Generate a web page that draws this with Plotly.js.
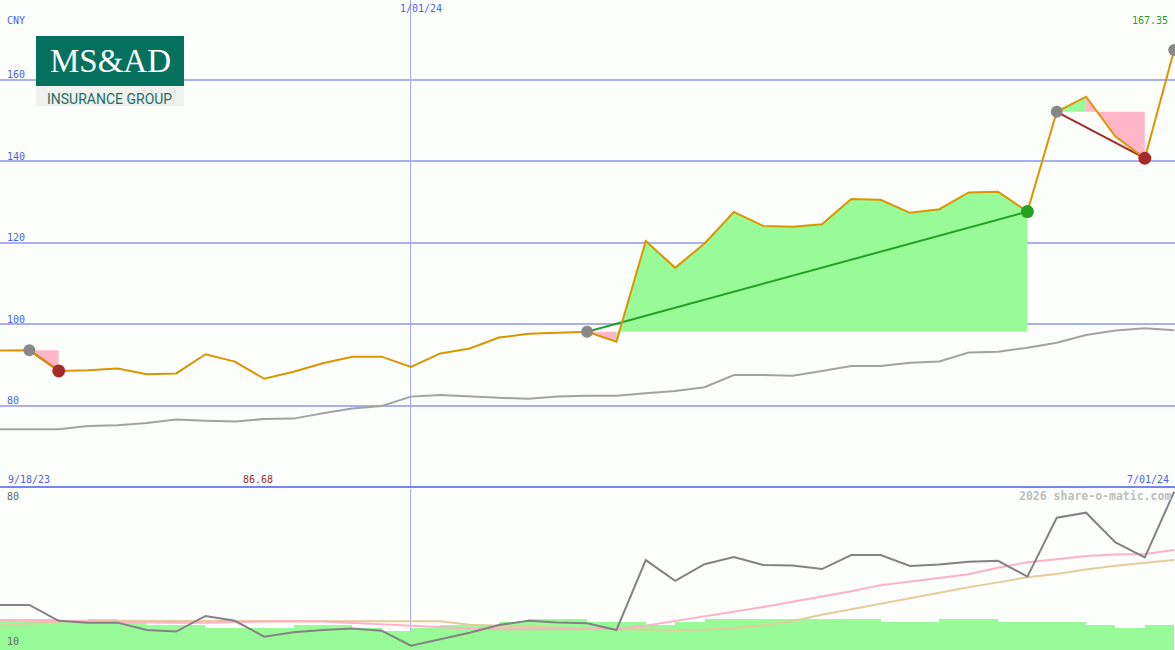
<!DOCTYPE html>
<html>
<head>
<meta charset="utf-8">
<script src="https://cdn.plot.ly/plotly-3.0.1.min.js"></script>
<style>html,body{margin:0;padding:0;background:#fcfefc;}#chart{width:1175px;height:650px;}</style>
</head>
<body>
<div id="chart"></div>
<script>
// ---- data ----
const dates = ['2023-09-25','2023-10-02','2023-10-09','2023-10-16','2023-10-23','2023-10-30','2023-11-06','2023-11-13','2023-11-20','2023-11-27',
  '2023-12-04','2023-12-11','2023-12-18','2023-12-25','2024-01-01','2024-01-08','2024-01-15','2024-01-22','2024-01-29','2024-02-05',
  '2024-02-12','2024-02-19','2024-02-26','2024-03-04','2024-03-11','2024-03-18','2024-03-25','2024-04-01','2024-04-08','2024-04-15',
  '2024-04-22','2024-04-29','2024-05-06','2024-05-13','2024-05-20','2024-05-27','2024-06-03','2024-06-10','2024-06-17','2024-06-24','2024-07-01'];
const price = [93.6, 93.7, 88.6, 88.8, 89.2, 87.8, 88.0, 92.7, 90.9, 86.68, 88.4, 90.5, 92.1, 92.1, 89.6, 92.9, 94.1, 96.8, 97.7, 98.0,
  98.2, 95.8, 120.5, 113.9, 119.9, 127.6, 124.2, 124.0, 124.6, 130.8, 130.6, 127.4, 128.3, 132.4, 132.6, 127.7, 152.2, 155.9, 146.1, 140.8, 167.35];
const priceAvg = [74.3, 74.3, 74.3, 75.1, 75.3, 75.8, 76.7, 76.4, 76.2, 76.8, 76.9, 78.2, 79.4, 80.0, 82.3, 82.7, 82.3, 82.0, 81.8, 82.3,
  82.5, 82.5, 83.1, 83.7, 84.6, 87.6, 87.6, 87.4, 88.6, 89.8, 89.8, 90.6, 90.9, 93.1, 93.3, 94.3, 95.5, 97.4, 98.5, 99.1, 98.6];
const tradeStart = [1, 20, 36];
const tradeEnd = [2, 35, 39];
const oscillator = [29.6, 29.6, 22.7, 21.9, 21.9, 18.7, 18.0, 24.8, 22.7, 15.8, 17.7, 18.7, 19.3, 18.4, 11.9, 14.8, 17.5, 20.9, 22.7, 22.0,
  21.6, 18.7, 49.1, 40.1, 47.3, 50.4, 47.0, 46.7, 45.2, 51.3, 51.3, 46.5, 47.2, 48.4, 48.8, 41.9, 67.5, 69.7, 56.8, 50.3, 78.8];
const oscFast = [23.0, 22.8, 22.4, 22.2, 22.2, 22.0, 21.9, 21.9, 22.1, 22.5, 22.5, 22.4, 21.8, 21.0, 20.6, 19.8, 19.3, 19.0, 19.0, 19.0,
  19.0, 19.1, 20.6, 22.6, 24.6, 26.7, 28.7, 31.0, 33.3, 35.5, 38.2, 39.8, 41.2, 42.9, 45.8, 48.2, 49.5, 50.9, 51.5, 51.7, 53.5];
const oscSlow = [20.6, 21.5, 22.3, 22.7, 22.7, 22.7, 22.7, 22.7, 22.7, 22.7, 22.7, 22.7, 22.7, 22.7, 22.7, 22.5, 21.0, 20.7, 20.3, 19.8,
  19.4, 19.1, 18.9, 18.7, 18.9, 19.5, 20.8, 22.6, 25.3, 27.7, 30.3, 32.8, 35.0, 37.3, 39.4, 41.6, 43.0, 45.0, 46.6, 47.8, 49.1];
const volume = [23.3, 23.3, 22.0, 23.5, 22.3, 20.9, 20.9, 19.7, 19.7, 19.7, 20.9, 20.9, 19.7, 18.4, 19.7, 20.9, 20.9, 22.0, 23.3, 23.3,
  22.0, 22.0, 20.9, 22.0, 23.3, 23.3, 23.3, 23.3, 23.3, 23.3, 22.0, 22.0, 23.3, 23.3, 22.0, 22.0, 22.0, 20.9, 19.7, 20.9];
const yTicks = [80, 100, 120, 140, 160];
const currency = 'CNY';
const startLabel = '9/18/23', endLabel = '7/01/24', markLabel = '1/01/24', markDate = '2024-01-01';
const oscTop = 80, oscBottom = 10;

// ---- styles ----
const FONT = 'DejaVu Sans Mono, monospace';
const BLUE = '#4d5ef2', GREEN = '#22a022', BROWN = '#a52a2a', GRAY = '#888888';
const FILL_GREEN = '#98fb98', FILL_PINK = '#ffb6c8';
const DAY = 86400000;
const ms = d => Date.parse(d);
const fmt = t => new Date(t).toISOString().replace('T', ' ').replace('Z', '');

const traces = [];
// trade fills (per segment colour by whether segment end is above the entry price)
tradeStart.forEach((s, k) => {
  const e = tradeEnd[k], base = price[s];
  let a = s;
  while (a < e) {
    const up = price[a + 1] >= base;
    let b = a + 1;
    while (b < e && (price[b + 1] >= base) === up) b++;
    const xs = dates.slice(a, b + 1);
    traces.push({x: xs, y: xs.map(() => base), xaxis: 'x', yaxis: 'y', mode: 'lines', line: {width: 0}, hoverinfo: 'skip'});
    traces.push({x: xs, y: price.slice(a, b + 1), xaxis: 'x', yaxis: 'y', mode: 'lines', line: {width: 0},
      fill: 'tonexty', fillcolor: up ? FILL_GREEN : FILL_PINK, hoverinfo: 'skip'});
    a = b;
  }
});
// moving average
traces.push({x: dates, y: priceAvg, xaxis: 'x', yaxis: 'y', mode: 'lines', line: {color: '#a2a2a2', width: 2}});
// trade lines
tradeStart.forEach((s, k) => {
  const e = tradeEnd[k];
  traces.push({x: [dates[s], dates[e]], y: [price[s], price[e]], xaxis: 'x', yaxis: 'y', mode: 'lines',
    line: {color: price[e] >= price[s] ? GREEN : BROWN, width: 2}});
});
// price line
traces.push({x: dates, y: price, xaxis: 'x', yaxis: 'y', mode: 'lines', line: {color: '#dc9400', width: 2}});
// markers
const last = price.length - 1;
traces.push({x: tradeStart.map(i => dates[i]).concat([dates[last]]), y: tradeStart.map(i => price[i]).concat([price[last]]),
  xaxis: 'x', yaxis: 'y', mode: 'markers', marker: {color: GRAY, size: 12}});
traces.push({x: tradeEnd.map(i => dates[i]), y: tradeEnd.map(i => price[i]), xaxis: 'x', yaxis: 'y', mode: 'markers',
  marker: {color: tradeEnd.map((e, k) => price[e] >= price[tradeStart[k]] ? GREEN : BROWN), size: 13}});

// bottom panel
traces.push({type: 'bar', x: volume.map((v, j) => fmt(ms(dates[j]) + 3.5 * DAY)), y: volume, width: volume.map(() => 7 * DAY),
  xaxis: 'x2', yaxis: 'y2', marker: {color: FILL_GREEN, line: {width: 0}}, hoverinfo: 'skip'});
traces.push({x: dates, y: oscSlow, xaxis: 'x2', yaxis: 'y2', mode: 'lines', line: {color: '#e4cc9c', width: 2}});
traces.push({x: dates, y: oscFast, xaxis: 'x2', yaxis: 'y2', mode: 'lines', line: {color: '#ffb0c8', width: 2}});
traces.push({x: dates, y: oscillator, xaxis: 'x2', yaxis: 'y2', mode: 'lines', line: {color: '#858085', width: 2}});

const r0 = fmt(ms(dates[0]));
const r1 = fmt(ms(dates[last]) + 0.2 * DAY);
const xcommon = {type: 'date', showticklabels: false, ticks: '', tickvals: [markDate], showgrid: true,
  gridcolor: '#a4acf8', gridwidth: 1, zeroline: false, showline: false, fixedrange: true};

const priceMin = Math.min(...price), minIdx = price.indexOf(priceMin);
const ann = [];
const A = (o) => ann.push(Object.assign({showarrow: false, font: {family: FONT, size: 10, color: BLUE}}, o));
A({text: currency, xref: 'paper', yref: 'paper', x: 5 / 1175, y: 1 - 20 / 650, xanchor: 'left', yanchor: 'middle'});
yTicks.forEach(t => A({text: String(t), xref: 'paper', yref: 'y', x: 5 / 1175, y: t, xanchor: 'left', yanchor: 'middle', yshift: 5}));
A({text: markLabel, xref: 'x', yref: 'paper', x: markDate, y: 1 - 8 / 650, xanchor: 'center', yanchor: 'middle', xshift: 10});
A({text: price[last].toFixed(2), xref: 'paper', yref: 'paper', x: 1170 / 1175, y: 1 - 21 / 650, xanchor: 'right', yanchor: 'middle',
  font: {family: FONT, size: 10, color: GREEN}});
A({text: startLabel, xref: 'paper', yref: 'paper', x: 6 / 1175, y: 1 - 479 / 650, xanchor: 'left', yanchor: 'middle'});
A({text: priceMin.toFixed(2), xref: 'x', yref: 'paper', x: dates[minIdx], y: 1 - 479 / 650, xanchor: 'center', yanchor: 'middle', xshift: -6,
  font: {family: FONT, size: 10, color: BROWN}});
A({text: endLabel, xref: 'paper', yref: 'paper', x: 1171 / 1175, y: 1 - 479 / 650, xanchor: 'right', yanchor: 'middle'});
A({text: String(oscTop), xref: 'paper', yref: 'paper', x: 5 / 1175, y: 1 - 496 / 650, xanchor: 'left', yanchor: 'middle',
  font: {family: FONT, size: 10, color: '#666666'}});
A({text: String(oscBottom), xref: 'paper', yref: 'paper', x: 5 / 1175, y: 1 - 641 / 650, xanchor: 'left', yanchor: 'middle',
  font: {family: FONT, size: 10, color: '#666666'}});
A({text: '2026 share-o-matic.com', xref: 'paper', yref: 'paper', x: 1173 / 1175, y: 1 - 496 / 650, xanchor: 'right', yanchor: 'middle',
  font: {family: FONT, size: 11.5, color: '#bdbdbd', weight: 'bold'}});
// logo text
A({text: 'MS&amp;AD', xref: 'paper', yref: 'paper', x: 110 / 1175, y: 1 - 61 / 650, xanchor: 'center', yanchor: 'middle',
  font: {family: 'Liberation Serif, DejaVu Serif, serif', size: 33, color: '#ffffff'}});
A({text: 'INSURANCE GROUP', xref: 'paper', yref: 'paper', x: 109 / 1175, y: 1 - 99 / 650, xanchor: 'center', yanchor: 'middle',
  font: {family: 'Liberation Sans Narrow, Roboto, sans-serif', size: 14, color: '#1f6e62'}});

const shapes = [
  {type: 'rect', xref: 'paper', yref: 'paper', x0: 36 / 1175, x1: 184 / 1175, y0: 1 - 86 / 650, y1: 1 - 36 / 650,
    fillcolor: '#06705f', line: {width: 0}, layer: 'above'},
  {type: 'rect', xref: 'paper', yref: 'paper', x0: 36 / 1175, x1: 184 / 1175, y0: 1 - 106 / 650, y1: 1 - 86 / 650,
    fillcolor: '#eff1ef', line: {width: 0}, layer: 'above'},
  {type: 'line', xref: 'paper', yref: 'paper', x0: 0, x1: 1, y0: 1 - 487 / 650, y1: 1 - 487 / 650,
    line: {color: '#7686ee', width: 2}, layer: 'above'}
];

const layout = {
  width: 1175, height: 650, margin: {l: 0, r: 0, t: 0, b: 0, pad: 0},
  paper_bgcolor: '#fcfefc', plot_bgcolor: '#fcfefc', showlegend: false, bargap: 0,
  xaxis: Object.assign({}, xcommon, {domain: [0, 1], anchor: 'y', range: [r0, r1]}),
  xaxis2: Object.assign({}, xcommon, {domain: [0, 1], anchor: 'y2', matches: 'x', range: [r0, r1]}),
  yaxis: {domain: [163 / 650, 1], range: [60.12, 179.63], tickvals: yTicks, showgrid: true, gridcolor: '#a8b0f2', gridwidth: 2,
    showticklabels: false, ticks: '', zeroline: false, showline: false, fixedrange: true},
  yaxis2: {domain: [0, 161 / 650], range: [oscBottom, oscTop], showgrid: false, showticklabels: false, ticks: '',
    zeroline: false, showline: false, fixedrange: true},
  annotations: ann, shapes: shapes
};
Plotly.newPlot('chart', traces, layout, {displayModeBar: false, staticPlot: true});
</script>
</body>
</html>
